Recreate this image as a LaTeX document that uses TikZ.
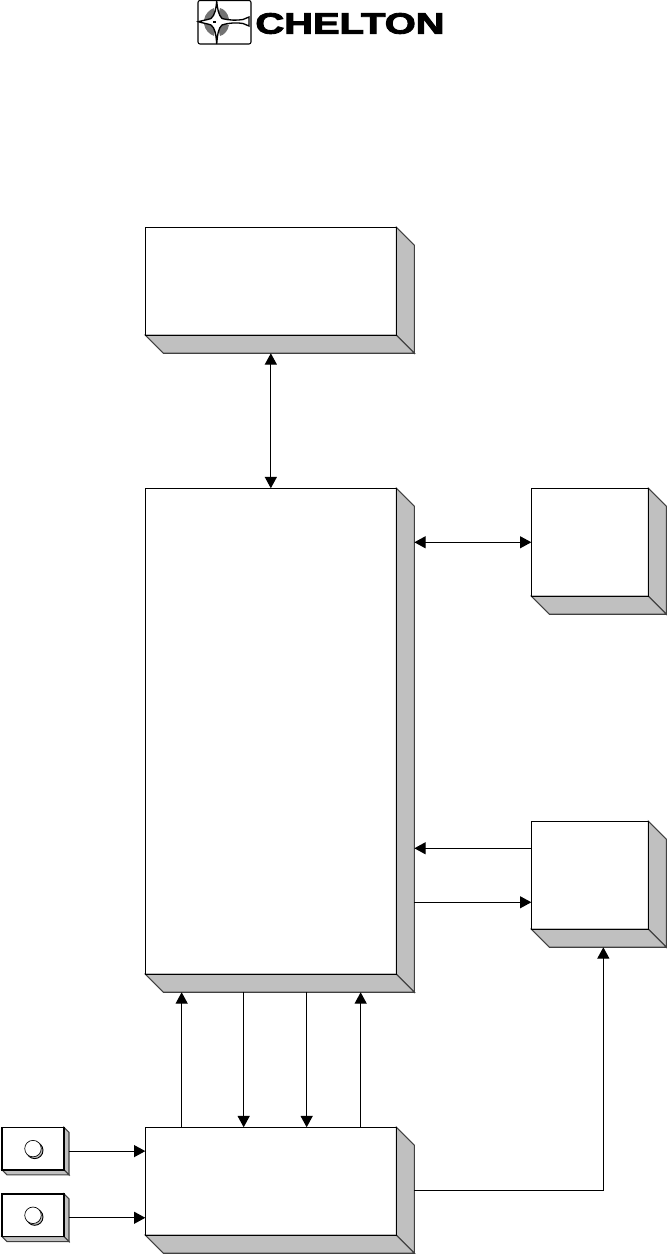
\documentclass[tikz,border=0pt]{standalone}
\usepackage{fontspec}
\usetikzlibrary{positioning,calc,arrows.meta}
\newfontfamily\logofont[FakeBold=3]{Liberation Sans}
\definecolor{mygrey}{RGB}{192, 192, 192}

\begin{document}
\begin{tikzpicture}[
    >={Triangle[length=8.5pt,width=9pt]},
    face/.style={
        draw,
        fill=white,
        line width=0.9pt,
        inner sep=0pt,
        outer sep=0pt
    },
    widebox/.style={face, minimum width=188.25pt},
    smallbox/.style={face, minimum width=87.75pt, minimum height=81pt},
    switchbox/.style={face, minimum width=46.5pt, minimum height=32pt},
    side/.style={draw=black!75, fill=mygrey, line width=0.8pt, line join=miter},
    knobshade/.style={circle, draw, fill=mygrey, line width=0.7pt, minimum size=12.4pt, inner sep=0pt},
    knob/.style={circle, draw, fill=white, line width=0.5pt, minimum size=12.4pt, inner sep=0pt},
    link/.style={line width=0.9pt}
]
\useasboundingbox (0,0) rectangle (500.25pt,-940.5pt);

% boxes
\node[widebox, anchor=north west, minimum height=364.5pt] (mainbox) at (109pt,-366.2pt) {};
\node[widebox, minimum height=81pt, above=114.75pt of mainbox] (topbox) {};
\node[widebox, minimum height=81pt, below=114.75pt of mainbox] (bottombox) {};
\node[smallbox, right=101.25pt of mainbox.north east, anchor=north west] (rightupper) {};
\node[smallbox, below=168.75pt of rightupper] (rightlower) {};
\node[switchbox, left=61pt of bottombox.north west, anchor=north east] (switcha) {};
\node[switchbox, below=18pt of switcha] (switchb) {};

% depth of the boxes
\foreach \boxname/\dep in {mainbox/13.5pt, topbox/13.5pt, bottombox/13.5pt,
    rightupper/13.5pt, rightlower/13.5pt, switcha/3.75pt, switchb/3.75pt} {
    \coordinate (\boxname-se) at ($(\boxname.south east)+(\dep,-\dep)$);
    \coordinate (\boxname-e) at ($(\boxname.east)+(\dep,-0.5*\dep)$);
    \draw[side] (\boxname.north east) -- ++(\dep,-\dep) -- (\boxname-se)
        -- (\boxname.south east) -- cycle;
    \draw[side] (\boxname.south west) -- ++(\dep,-\dep) -- (\boxname-se)
        -- (\boxname.south east) -- cycle;
    \draw[line width=0.9pt] (\boxname.north west) rectangle (\boxname.south east);
}

% switches
\foreach \boxname in {switcha, switchb} {
    \node[knobshade] (\boxname-shade) at ($(\boxname.center)+(1.3pt,-1.3pt)$) {};
    \node[knob] (\boxname-knob) at (\boxname.center) {};
}

% points on the boxes
\coordinate (busa) at ($(bottombox.north west)+(27.25pt,0)$);
\coordinate (busb) at ($(bottombox.north west)+(73.75pt,0)$);
\coordinate (busc) at ($(bottombox.north west)+(121pt,0)$);
\coordinate (busd) at ($(bottombox.north west)+(161.5pt,0)$);
\coordinate (lowerin) at ($(rightlower.north west)!.25!(rightlower.south west)$);
\coordinate (lowerout) at ($(rightlower.north west)!.75!(rightlower.south west)$);
\coordinate (lowerfoot) at ($(rightlower-se)+(-47.25pt,0)$);

% connectors
\draw[link, <->] (topbox.south |- topbox-se) -- (mainbox.north);
\draw[link, <->] (mainbox-se |- rightupper.west) -- (rightupper.west);
\draw[link, ->] (lowerin) -- (lowerin -| mainbox-se);
\draw[link, ->] (lowerout -| mainbox-se) -- (lowerout);
\foreach \bus in {busa, busd}
    \draw[link, ->] (\bus) -- (\bus |- mainbox-se);
\foreach \bus in {busb, busc}
    \draw[link, ->] (\bus |- mainbox-se) -- (\bus);
\draw[link, ->] (switcha-e) -- (switcha-e -| bottombox.west);
\draw[link, ->] (switchb-e) -- (switchb-e -| bottombox.west);
\draw[link, ->] (bottombox-e) -| (lowerfoot);

% logo
\begin{scope}[x=0.75pt, y=-0.75pt]
    \draw[line width=0.8pt, rounded corners=1.5pt] (198,0.5) rectangle (251,44);
    \fill[black!55] (216.7,21.7) -- (204,20) .. controls (205,14) and (209,10) .. (214,8) -- cycle;
    \fill[black!55] (216.7,21.7) -- (204,24) .. controls (205,30) and (209,34) .. (214,36) -- cycle;
    \fill[black!55] (216.7,21.7) -- (220,8) .. controls (224,9) and (228,13) .. (229,19) -- cycle;
    \fill[black!55] (216.7,21.7) -- (220,36) .. controls (224,35) and (228,31) .. (229,25) -- cycle;
    \draw[line width=1pt, fill=white] (216.7,1) .. controls (217.5,9) and (218.5,15) .. (222,18.5)
        .. controls (230,20.5) and (237,20.5) .. (243,19.5) -- (249,17) -- (249,26) -- (243,23.5)
        .. controls (237,22.5) and (230,22.5) .. (222,25)
        .. controls (218.5,28) and (217.5,34) .. (216.7,44)
        .. controls (216,34) and (215,28) .. (211,25)
        .. controls (207,23.5) and (202,23) .. (198.5,21.7)
        .. controls (202,20.5) and (207,20) .. (211,18.5)
        .. controls (215,15) and (216,9) .. (216.7,1) -- cycle;
    \fill (212.5,21) rectangle (216,22.5);
    \node[inner sep=0pt] (logotext) at (350,23.5) {\scalebox{1.36}[1]{\logofont\bfseries\fontsize{22pt}{22pt}\selectfont CHELTON}};
\end{scope}

\end{tikzpicture}
\end{document}
